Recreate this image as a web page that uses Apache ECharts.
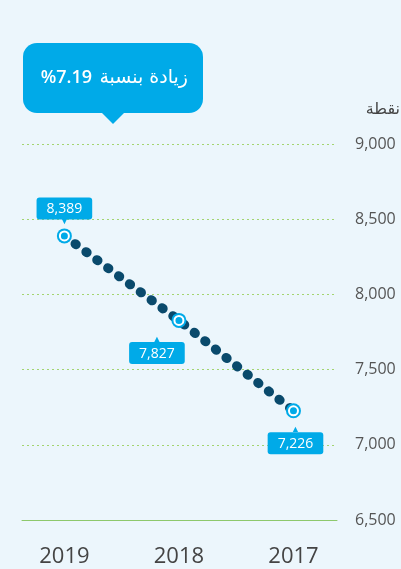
<!DOCTYPE html>
<html>
<head>
<meta charset="utf-8">
<script src="https://cdn.jsdelivr.net/npm/echarts@6/dist/echarts.min.js"></script>
<style>
  html, body { margin: 0; padding: 0; background: #ecf6fc; }
  #chart { width: 401px; height: 569px; }
</style>
</head>
<body>
<div id="chart"></div>
<script>
// السنوات من اليسار لليمين كما في الرسم
const years = ['2019', '2018', '2017']
const points = [8389, 7827, 7226]
const yTicks = { min: 6500, max: 9000, step: 500 }
const unitName = 'نقطة'
const calloutWords = 'زيادة بنسبة'
const calloutNumber = '%7.19'

const blue = '#00aae8'
const fontFamily = '"Open Sans", "DejaVu Sans", sans-serif'
const rtl = s => '\u202B' + s + '\u202C'

// مكان كل صندوق رقم بالنسبة للنقطة
const labelStyle = [
  { position: 'top', distance: 6, offset: [0, 0], up: false },
  { position: 'bottom', distance: 11, offset: [-22, 0], up: true },
  { position: 'bottom', distance: 11, offset: [2, 0], up: true }
]

const fmt = v => v.toLocaleString('en-US')

const pointData = points.map((v, i) => {
  const s = labelStyle[i]
  return {
    value: [i, v],
    label: {
      show: true,
      position: s.position,
      distance: s.distance,
      offset: s.offset,
      formatter: s.up ? '{arr|▲}\n{box|' + fmt(v) + '}' : '{box|' + fmt(v) + '}\n{arr|▼}',
      rich: {
        box: {
          color: '#fff',
          fontSize: 14,
          fontFamily: fontFamily,
          backgroundColor: blue,
          borderRadius: 3,
          padding: [5, 10, 3, 10],
          align: 'center'
        },
        arr: {
          color: blue,
          fontSize: 9,
          lineHeight: 5,
          align: 'center'
        }
      }
    }
  }
})

const chart = echarts.init(document.getElementById('chart'))

chart.setOption({
  backgroundColor: '#ecf6fc',
  animation: false,
  grid: { left: 22, right: 64, top: 144, bottom: 49 },
  xAxis: {
    type: 'value',
    min: -0.37,
    max: 2.38,
    axisLine: { onZero: false, lineStyle: { color: '#8dc86c', width: 1 } },
    axisTick: { show: false },
    splitLine: { show: false },
    axisLabel: {
      customValues: years.map((y, i) => i),
      formatter: v => years[v],
      fontSize: 22,
      color: '#444',
      fontFamily: fontFamily,
      margin: 26
    }
  },
  yAxis: {
    type: 'value',
    position: 'right',
    min: yTicks.min,
    max: yTicks.max,
    interval: yTicks.step,
    axisLine: { show: false },
    axisTick: { show: false },
    axisLabel: {
      formatter: v => fmt(v),
      fontSize: 16,
      color: '#555',
      fontFamily: fontFamily,
      margin: 18
    },
    splitLine: { lineStyle: { color: '#a3d470', type: [2, 3], width: 1 } }
  },
  series: [
    {
      type: 'line',
      data: points.map((v, i) => [i, v]),
      symbol: 'none',
      lineStyle: { color: '#0a4a6c', width: 9.5, type: [1, 12.5], cap: 'round' },
      z: 1,
      silent: true
    },
    {
      type: 'scatter',
      data: points.map((v, i) => [i, v]),
      symbolSize: 15,
      itemStyle: { color: blue, opacity: 1 },
      z: 2,
      silent: true
    },
    {
      type: 'scatter',
      data: pointData,
      symbolSize: 9,
      itemStyle: { color: blue, borderColor: '#fff', borderWidth: 2, opacity: 1 },
      z: 3
    }
  ],
  graphic: [
    {
      type: 'rect',
      shape: { x: 23, y: 43, width: 180, height: 70, r: 14 },
      style: { fill: blue }
    },
    {
      type: 'polygon',
      shape: { points: [[101, 112], [125, 112], [113, 124]] },
      style: { fill: blue }
    },
    {
      type: 'text',
      style: {
        x: 188, y: 78,
        text: rtl(calloutWords),
        fill: '#fff',
        font: '19px "DejaVu Sans", sans-serif',
        align: 'right',
        verticalAlign: 'middle'
      }
    },
    {
      type: 'text',
      style: {
        x: 92, y: 78,
        text: calloutNumber,
        fill: '#fff',
        font: '600 18px "Open Sans", sans-serif',
        align: 'right',
        verticalAlign: 'middle'
      }
    },
    {
      type: 'text',
      style: {
        x: 400, y: 110,
        text: rtl(unitName),
        fill: '#444',
        font: '16px "DejaVu Sans", sans-serif',
        align: 'right',
        verticalAlign: 'middle'
      }
    }
  ]
})
</script>
</body>
</html>
